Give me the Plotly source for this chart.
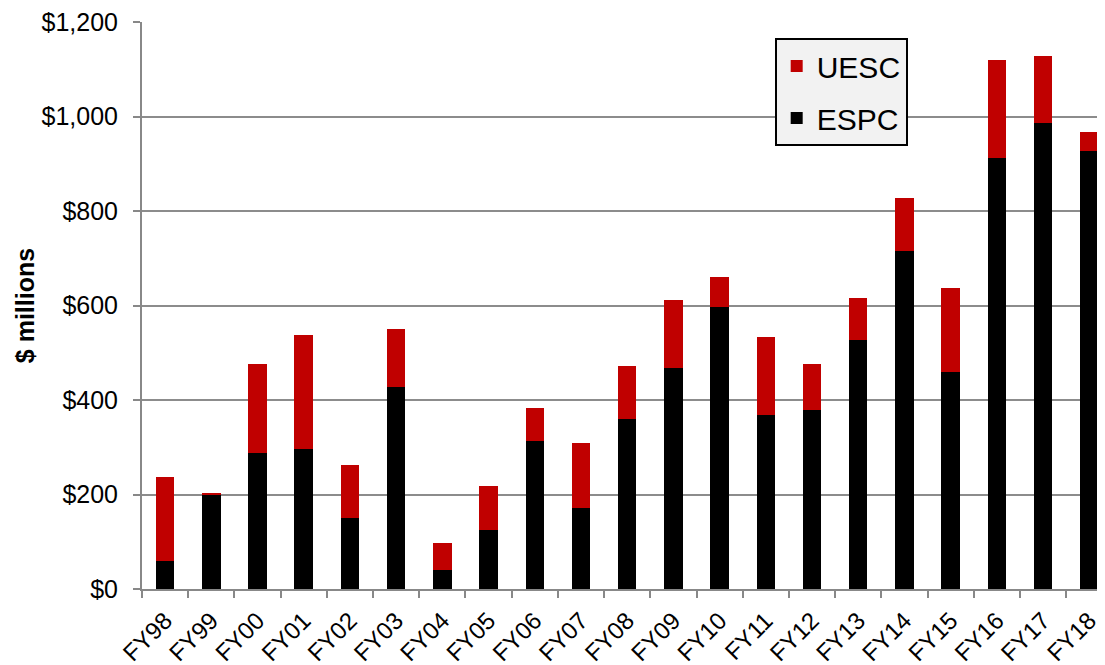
import plotly.graph_objects as go

years = ["FY98", "FY99", "FY00", "FY01", "FY02", "FY03", "FY04", "FY05", "FY06", "FY07",
         "FY08", "FY09", "FY10", "FY11", "FY12", "FY13", "FY14", "FY15", "FY16", "FY17", "FY18"]
espc = [59, 200, 287, 297, 151, 428, 40, 124, 313, 171,
        360, 468, 596, 368, 378, 527, 716, 460, 912, 986, 927]
total = [236, 204, 477, 537, 262, 550, 97, 217, 384, 308,
         471, 611, 660, 533, 477, 615, 828, 637, 1120, 1128, 968]
uesc = [t - e for t, e in zip(total, espc)]

y_ticks = [0, 200, 400, 600, 800, 1000, 1200]
y_tick_labels = ["$0", "$200", "$400", "$600", "$800", "$1,000", "$1,200"]

fig = go.Figure()
fig.add_trace(go.Bar(x=years, y=espc, name="ESPC", legendgroup="espc", legendrank=2,
                     marker=dict(color="#000000", line=dict(width=0))))
fig.add_trace(go.Bar(x=years, y=uesc, name="UESC", legendgroup="uesc", legendrank=1,
                     marker=dict(color="#c00000", line=dict(width=0))))

font_family = "Liberation Sans, Arial, sans-serif"
fig.update_layout(
    barmode="stack",
    bargap=0.6,
    width=1097, height=657,
    margin=dict(l=134, r=0, t=14, b=76),
    paper_bgcolor="white", plot_bgcolor="white",
    font=dict(family=font_family, color="black", size=25),
    showlegend=True,
    legend=dict(
        x=0.657, y=0.972, xanchor="left", yanchor="top",
        traceorder="grouped",
        tracegroupgap=10,
        bgcolor="#f2f2f2", bordercolor="black", borderwidth=2,
        font=dict(size=30, family=font_family, color="black"),
        itemsizing="constant",
    ),
    xaxis=dict(
        type="category",
        range=[-0.5, 20.34],
        tickangle=-45,
        tickson="boundaries",
        ticks="outside", ticklen=7, tickcolor="#888888", tickwidth=2,
        showline=True, linecolor="#888888", linewidth=2,
        showgrid=False,
        automargin=False,
        ticklabelstandoff=6,
        tickfont=dict(size=24, family=font_family, color="black"),
    ),
    yaxis=dict(
        range=[0, 1200.01],
        tickvals=y_ticks, ticktext=y_tick_labels,
        ticks="outside", ticklen=7, tickcolor="#888888", tickwidth=2,
        showline=True, linecolor="#888888", linewidth=2,
        showgrid=True, gridcolor="#8c8c8c", gridwidth=1.5,
        zeroline=False,
        automargin=False,
        ticklabelstandoff=10,
        ticklabeloverflow="allow",
        tickfont=dict(size=25, family=font_family, color="black"),
        title=dict(text="<b>$ millions</b>", font=dict(size=25, family=font_family, color="black"), standoff=0),
    ),
)

fig.write_html("out.html")
